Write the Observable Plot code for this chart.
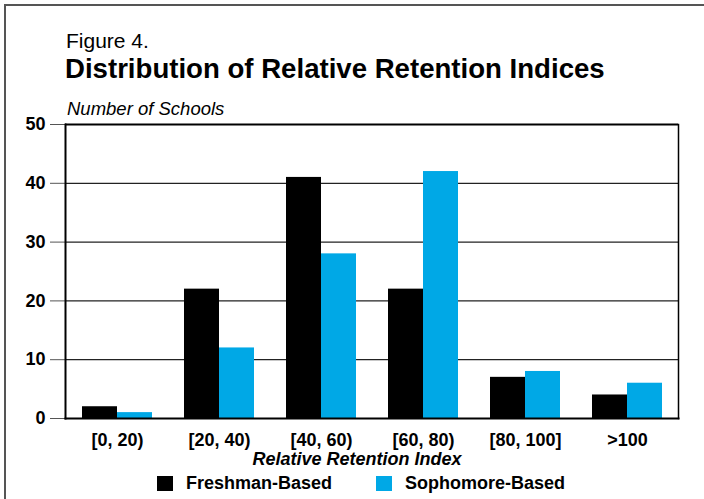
<!DOCTYPE html>
<html>
<head>
<meta charset="utf-8">
<script src="https://cdn.jsdelivr.net/npm/d3@7"></script>
<script src="https://cdn.jsdelivr.net/npm/@observablehq/plot@0.6"></script>
<style>
  html, body { margin: 0; padding: 0; background: #fff; }
  body { width: 704px; height: 499px; position: relative; overflow: hidden; font-family: "Liberation Sans", Arial, sans-serif; }
  #border { position: absolute; left: 4px; top: 4px; width: 720px; height: 520px; border: 2px solid #555; }
  .abs { position: absolute; white-space: nowrap; color: #000; line-height: 1; }
  #fig { left: 66px; top: 30px; font-size: 21px; }
  #title { left: 65px; top: 55px; font-size: 27.6px; font-weight: bold; }
  #ylab { left: 67px; top: 100px; font-size: 18.5px; font-style: italic; }
  #xlab { left: 0; width: 714px; text-align: center; top: 450px; font-size: 18px; font-weight: bold; font-style: italic; }
  #chart { position: absolute; left: 0; top: 100px; }
  #legend { left: 157px; top: 474px; font-size: 18px; font-weight: bold; display: flex; align-items: center; }
  .sw { display: inline-block; width: 16px; height: 15px; margin-right: 13px; }
</style>
</head>
<body>
<div id="border"></div>
<div class="abs" id="fig">Figure 4.</div>
<div class="abs" id="title">Distribution of Relative Retention Indices</div>
<div class="abs" id="ylab">Number of Schools</div>
<div id="chart"></div>
<div class="abs" id="xlab">Relative Retention Index</div>
<div class="abs" id="legend"></div>
<script>
const categories = ["[0, 20)", "[20, 40)", "[40, 60)", "[60, 80)", "[80, 100]", ">100"];
const freshman = [2, 22, 41, 22, 7, 4];
const sophomore = [1, 12, 28, 42, 8, 6];
const seriesNames = ["Freshman-Based", "Sophomore-Based"];
const colors = ["#000000", "#00A8E6"];
const yTicks = [0, 10, 20, 30, 40, 50];

const fData = categories.map((c, i) => ({category: c, value: freshman[i], series: seriesNames[0]}));
const sData = categories.map((c, i) => ({category: c, value: sophomore[i], series: seriesNames[1]}));

const plot = Plot.plot({
  width: 704,
  height: 370,
  marginLeft: 65,
  marginRight: 26,
  marginTop: 24,
  marginBottom: 52,
  style: {fontFamily: "'Liberation Sans', Arial, sans-serif", background: "transparent"},
  x: {domain: categories, padding: 0, label: null},
  y: {domain: [0, 50], label: null},
  color: {domain: seriesNames, range: colors},
  marks: [
    Plot.ruleY(yTicks.filter(d => d > 0 && d < 50), {stroke: "#222", strokeWidth: 1.2}),
    Plot.barY(fData, {x: "category", y: "value", fill: "series", insetLeft: 16, insetRight: 51}),
    Plot.barY(sData, {x: "category", y: "value", fill: "series", insetLeft: 51, insetRight: 16}),
    Plot.ruleY([50], {stroke: "#000", strokeWidth: 2.2}),
    Plot.axisY({ticks: yTicks, tickSize: 15, tickPadding: 5, stroke: "#555", fontSize: 18, fontWeight: "bold", fill: "#000", label: null}),
    Plot.axisX({tickSize: 0, tickPadding: 15, fontSize: 18, fontWeight: "bold", fill: "#000", label: null}),
    Plot.frame({anchor: "left", stroke: "#000", strokeWidth: 2}),
    Plot.frame({anchor: "right", stroke: "#000", strokeWidth: 1.5}),
    Plot.frame({anchor: "bottom", stroke: "#000", strokeWidth: 2})
  ]
});
document.getElementById("chart").appendChild(plot);

const legend = document.getElementById("legend");
seriesNames.forEach((name, i) => {
  const item = document.createElement("span");
  item.style.display = "inline-flex";
  item.style.alignItems = "center";
  item.style.marginRight = i === 0 ? "44px" : "0";
  const sw = document.createElement("span");
  sw.className = "sw";
  sw.style.background = colors[i];
  item.appendChild(sw);
  item.appendChild(document.createTextNode(name));
  legend.appendChild(item);
});
</script>
</body>
</html>
